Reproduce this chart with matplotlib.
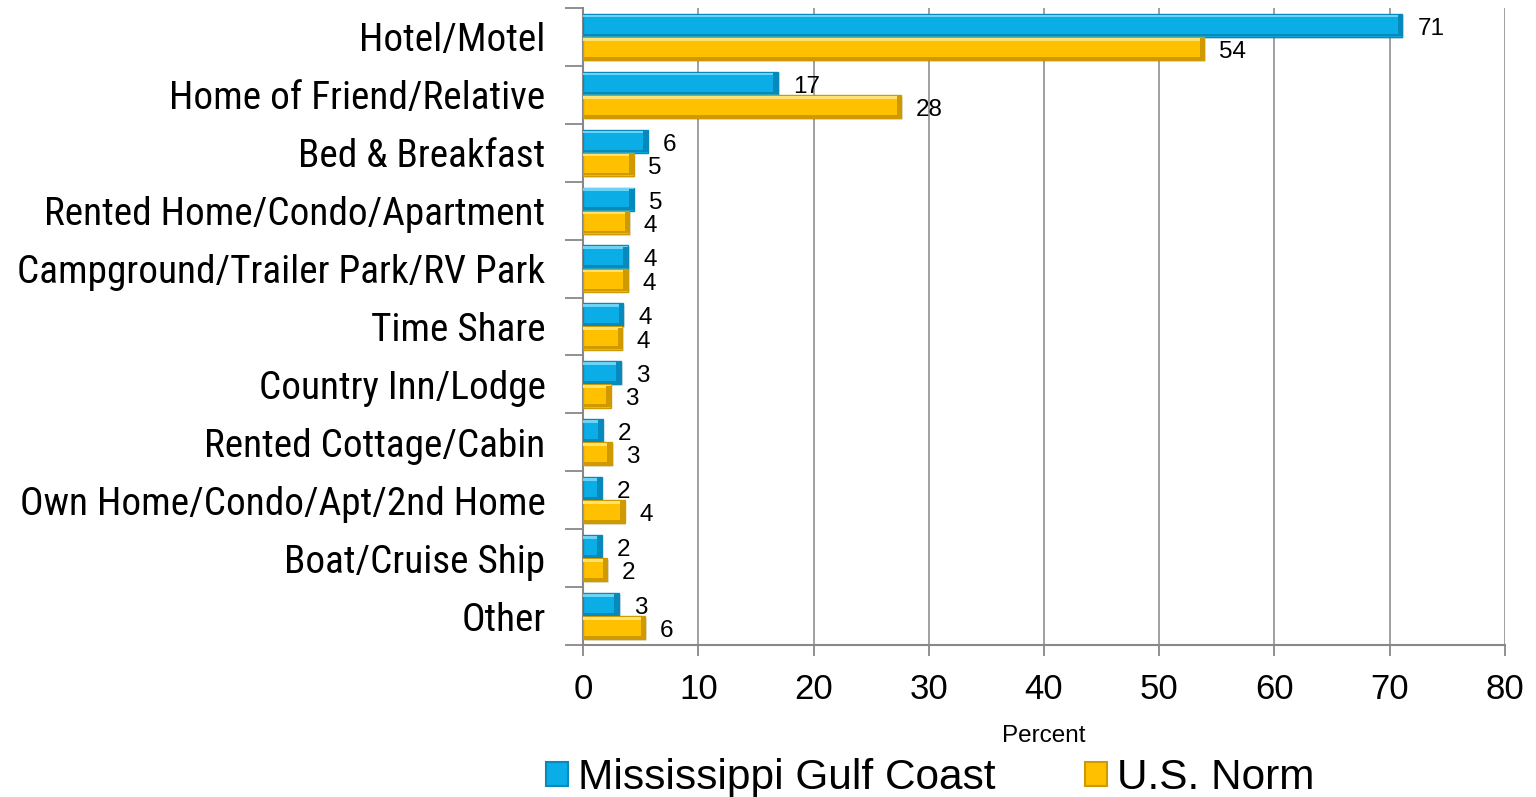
import matplotlib
matplotlib.use("Agg")
import matplotlib.pyplot as plt
import numpy as np
from matplotlib.patches import Rectangle

categories = ["Hotel/Motel", "Home of Friend/Relative", "Bed & Breakfast",
              "Rented Home/Condo/Apartment", "Campground/Trailer Park/RV Park",
              "Time Share", "Country Inn/Lodge", "Rented Cottage/Cabin",
              "Own Home/Condo/Apt/2nd Home", "Boat/Cruise Ship", "Other"]
gulf_values = [71.1, 16.9, 5.6, 4.4, 3.9, 3.5, 3.3, 1.7, 1.6, 1.6, 3.1]
norm_values = [53.9, 27.6, 4.4, 4.0, 3.9, 3.4, 2.4, 2.5, 3.6, 2.1, 5.4]
gulf_labels = ["71", "17", "6", "5", "4", "4", "3", "2", "2", "2", "3"]
norm_labels = ["54", "28", "5", "4", "4", "4", "3", "3", "4", "2", "6"]
series_names = ["Mississippi Gulf Coast", "U.S. Norm"]
xticks = [0, 10, 20, 30, 40, 50, 60, 70, 80]

NARROW = ["Roboto Condensed", "Liberation Sans", "DejaVu Sans"]
REG = ["Liberation Sans", "DejaVu Sans"]

fig = plt.figure(figsize=(15.36, 7.97), dpi=100)
ax = fig.add_axes([0.3796, 0.1907, 0.6002, 0.7993])

n = len(categories)
y = np.arange(n)
h = 0.4

styles = [
    dict(face="#0AADE6", light="#6AD3F6", dark="#0789BC"),
    dict(face="#FFC000", light="#FFE272", dark="#CE9A00"),
]

def draw_series(vals, offset, st):
    pos = y + offset
    ax.barh(pos + 0.03, vals, height=h, left=0.15, color="#000000", alpha=0.10,
            zorder=2, linewidth=0)
    ax.barh(pos, vals, height=h, color=st["face"], edgecolor=st["dark"],
            linewidth=1.0, zorder=3)
    ax.barh(pos - h * 0.40, vals, height=h * 0.12, color=st["light"],
            linewidth=0, zorder=4)
    ax.barh(pos + h * 0.42, vals, height=h * 0.12, color=st["dark"],
            linewidth=0, zorder=4)
    ends = np.array(vals)
    ax.barh(pos, np.full(n, 0.4), left=ends - 0.4, height=h * 0.9,
            color=st["dark"], linewidth=0, zorder=4)

draw_series(gulf_values, -h / 2, styles[0])
draw_series(norm_values, h / 2, styles[1])

for i in range(n):
    ax.annotate(gulf_labels[i], (gulf_values[i], y[i] - h / 2), xytext=(11, -2.5),
                textcoords="offset points", va="center", ha="left",
                fontsize=17.5, family=REG, color="#000000", zorder=6)
    ax.annotate(norm_labels[i], (norm_values[i], y[i] + h / 2), xytext=(10.5, -2.5),
                textcoords="offset points", va="center", ha="left",
                fontsize=17.5, family=REG, color="#000000", zorder=6)

ax.set_xlim(0, 80)
ax.set_ylim(n - 0.5, -0.5)
ax.set_xticks(xticks)
ax.set_xticklabels([str(t) for t in xticks], fontsize=25, family=REG)
ax.set_yticks(y)
ax.set_yticklabels(categories, fontsize=28.3, family=NARROW)
ax.set_yticks(np.arange(-0.5, n, 1.0), minor=True)
ax.tick_params(axis="y", which="major", length=0, pad=27)
ax.tick_params(axis="y", which="minor", length=13, width=1.3, color="#888888",
               direction="out")
ax.tick_params(axis="x", which="major", length=8, width=1.3, color="#888888",
               direction="out", pad=12)

ax.grid(axis="x", color="#999999", linewidth=1.3, zorder=0)
ax.set_axisbelow(True)
for s in ["top", "right"]:
    ax.spines[s].set_visible(False)
for s in ["left", "bottom"]:
    ax.spines[s].set_color("#888888")
    ax.spines[s].set_linewidth(1.5)

ax.set_xlabel("Percent", fontsize=17.5, family=REG, labelpad=14)

handles = [Rectangle((0, 0), 1, 1, facecolor=styles[0]["face"], edgecolor=styles[0]["dark"], linewidth=1.5),
           Rectangle((0, 0), 1, 1, facecolor=styles[1]["face"], edgecolor=styles[1]["dark"], linewidth=1.5)]
fig.legend(handles, series_names, loc="center", bbox_to_anchor=(0.6055, 0.024),
           ncol=2, frameon=False, prop={"family": REG, "size": 30.5},
           handlelength=0.52, handleheight=0.52, handletextpad=0.24,
           columnspacing=2.1, borderpad=0)

fig.savefig("out.png", dpi=100)
